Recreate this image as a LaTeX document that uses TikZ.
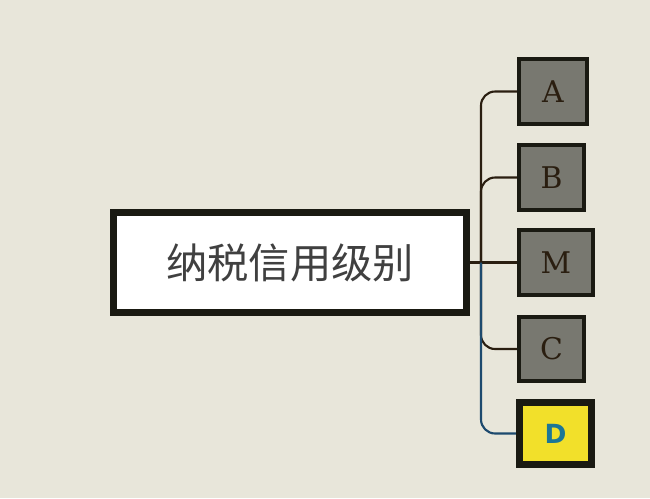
\documentclass[tikz,border=0pt]{standalone}
\usepackage{tikz}
\usepackage{xcolor}
\usepackage{fontspec}
\usetikzlibrary{shapes,positioning,calc}
\newfontfamily\cjk{Noto Sans CJK SC}
\newfontfamily\slab{DejaVu Serif}
\newfontfamily\boldsans{DejaVu Sans}
\definecolor{sfondo}{RGB}{232,230,218}
\definecolor{grigio}{RGB}{120,120,112}
\definecolor{bordo}{RGB}{26,26,18}
\definecolor{marrone}{RGB}{42,30,16}
\definecolor{blu}{RGB}{29,74,110}
\definecolor{giallo}{RGB}{242,224,42}
\definecolor{azzurro}{RGB}{28,118,150}

\begin{document}
\begin{tikzpicture}[x=0.02cm,y=-0.02cm,
  foglia/.style={rectangle, draw=bordo, fill=grigio, line width=2.3pt, minimum height=1.3cm, text=marrone, font=\slab\fontsize{17}{19}\selectfont},
  ramo/.style={draw=marrone, line width=1.2pt, rounded corners=8pt}]
\fill[sfondo] (0,0) rectangle (650,498);

\node[rectangle, draw=bordo, fill=white, line width=4pt, minimum width=7.06cm, minimum height=2cm, text=black!75, font=\cjk\fontsize{23.5}{26}\selectfont] (livello) at (290,262.5) {纳税信用级别};
\node[foglia, minimum width=1.36cm] (A) at (553,91.5) {A};
\node[foglia, minimum width=1.3cm] (B) at (551.5,177.5) {B};
\node[foglia, minimum width=1.48cm] (M) at (556,262.5) {M};
\node[foglia, minimum width=1.3cm, minimum height=1.28cm] (C) at (551.5,349) {C};
\node[rectangle, draw=bordo, fill=giallo, line width=4pt, minimum width=1.44cm, minimum height=1.24cm, text=azzurro, font=\boldsans\bfseries\fontsize{15}{18}\selectfont] (D) at (555.5,433.5) {D};

\coordinate (tronco) at (481,262.5);
\draw[ramo] (livello.east) -- (M.west);
\draw[ramo] (tronco) |- (A.west);
\draw[ramo] (tronco) |- (B.west);
\draw[ramo] (tronco) |- (C.west);
\draw[ramo, draw=blu] (tronco) |- (D.west);
\end{tikzpicture}
\end{document}
